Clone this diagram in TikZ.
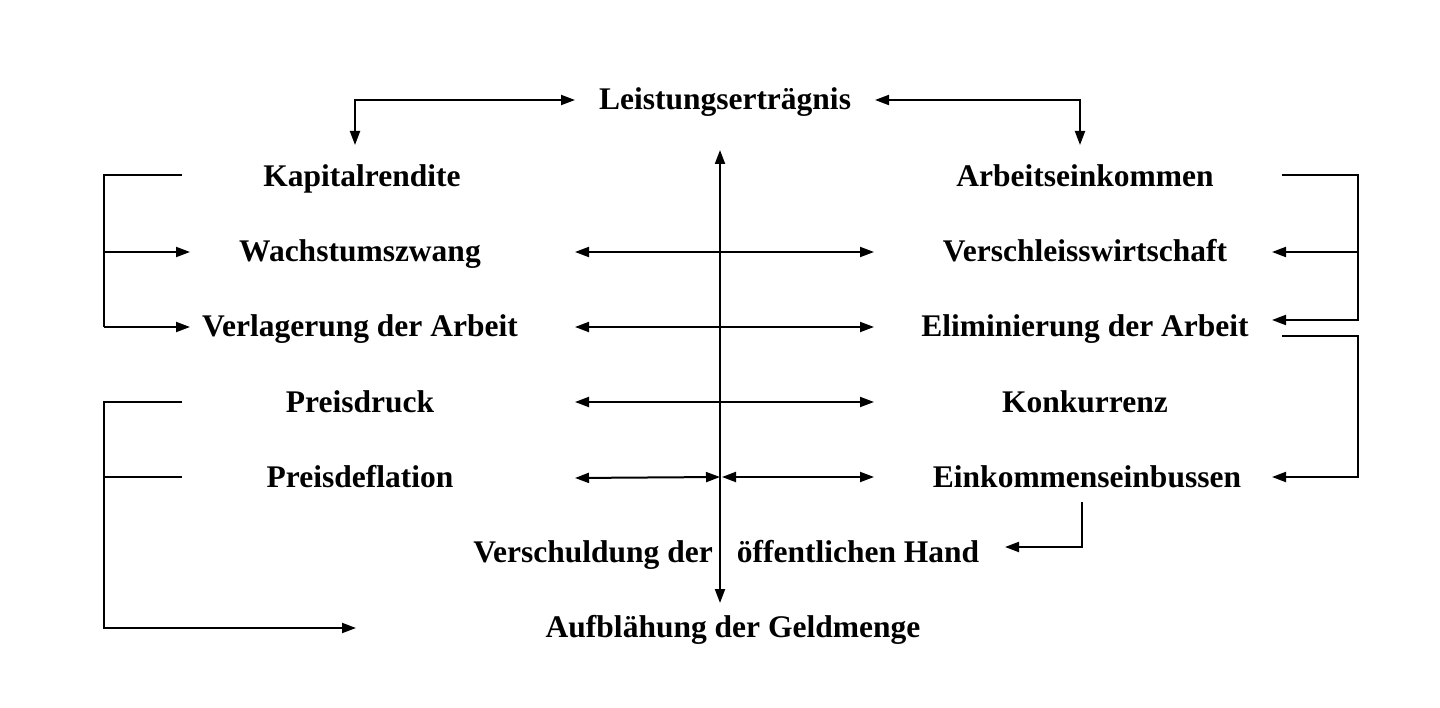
\documentclass[tikz,border=0pt]{standalone}
\usepackage{fontspec}
\setmainfont{Liberation Serif}
\usetikzlibrary{arrows.meta}
\begin{document}
\begin{tikzpicture}[x=1pt,y=-1pt,
  lbl/.style={font=\fontsize{31.5}{36}\selectfont\bfseries,inner sep=0pt,anchor=base},
  ln/.style={line width=2pt},
  >={Triangle[length=14pt,width=10pt]}]
\useasboundingbox (0,0) rectangle (1440,708);
% texts
\node[lbl] (L) at (725,110) {Leistungserträgnis};
\node[lbl] (K) at (362,187) {Kapitalrendite};
\node[lbl] (W) at (360,262) {Wachstumszwang};
\node[lbl] (V) at (360,337) {Verlagerung der Arbeit};
\node[lbl] (P) at (360,412) {Preisdruck};
\node[lbl] (D) at (360,487) {Preisdeflation};
\node[lbl] (A) at (1085,187) {Arbeitseinkommen};
\node[lbl] (S) at (1085,262) {Verschleisswirtschaft};
\node[lbl] (E) at (1085,337) {Eliminierung der Arbeit};
\node[lbl] (Ko) at (1085,412) {Konkurrenz};
\node[lbl] (Ei) at (1087,487) {Einkommenseinbussen};
\node[lbl] (Vs) at (593,562) {Verschuldung der};
\node[lbl] (Oe) at (858,562) {öffentlichen Hand};
\node[lbl] (G) at (733,637) {Aufblähung der Geldmenge};
% coordinates
\coordinate (c1) at (575,100); \coordinate (c2) at (355,145);
\coordinate (c3) at (875,100); \coordinate (c4) at (1080,145);
\coordinate (vt) at (720,150); \coordinate (vb) at (720,603);
% top
\draw[ln,<->] (c1) -- (355,100) -- (c2);
\draw[ln,<->] (c3) -- (1080,100) -- (c4);
\draw[ln,<->] (vt) -- (vb);
% horizontals
\foreach \y in {252,327,402} \draw[ln,<->] (575,\y) -- (874,\y);
\draw[ln,<->] (575,478) -- (720,477);
\draw[ln,<->] (722,477) -- (874,477);
% left brackets
\draw[ln] (182,175) -- (104,175) -- (104,327);
\draw[ln,->] (104,252) -- (190,252);
\draw[ln,->] (104,327) -- (190,327);
\draw[ln,->] (182,402) -- (104,402) -- (104,628) -- (356,628);
\draw[ln] (104,477) -- (182,477);
% right brackets
\draw[ln,->] (1282,175) -- (1358,175) -- (1358,320) -- (1272,320);
\draw[ln,->] (1358,252) -- (1272,252);
\draw[ln,->] (1282,336) -- (1358,336) -- (1358,477) -- (1272,477);
\draw[ln,->] (1082,502) -- (1082,547) -- (1005,547);
\end{tikzpicture}
\end{document}
